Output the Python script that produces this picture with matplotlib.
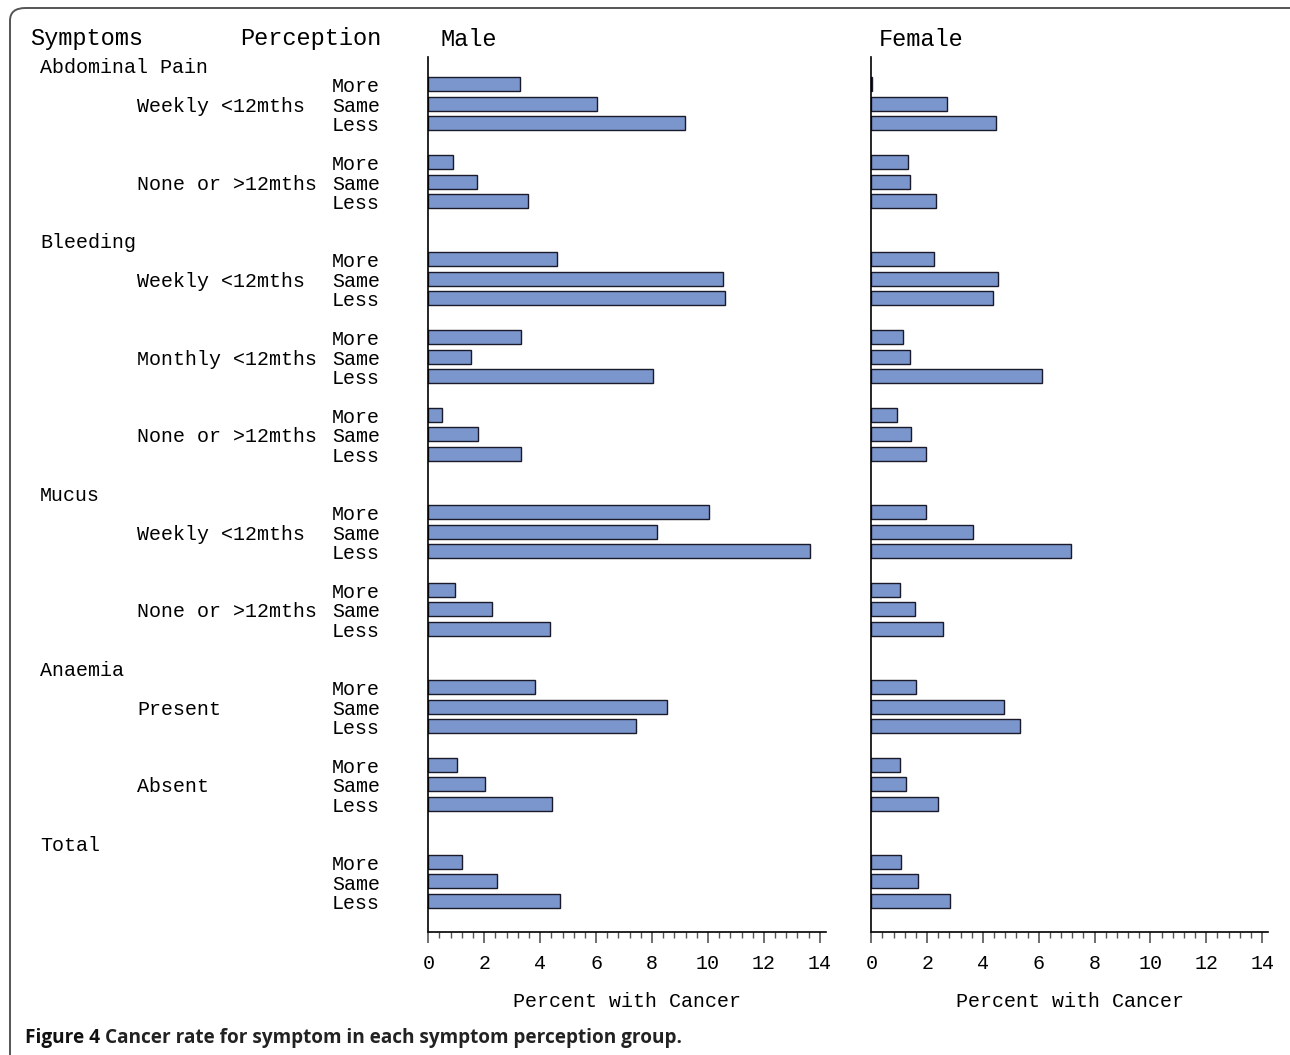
import matplotlib.pyplot as plt
from matplotlib.ticker import MultipleLocator
from matplotlib.patches import FancyBboxPatch
from matplotlib.transforms import blended_transform_factory

W, H = 1290, 1055
MONO = "Liberation Mono"

headings = ["Abdominal Pain", "Bleeding", "Mucus", "Anaemia", "Total"]
subgroups = [
    ["Weekly <12mths", "None or >12mths"],
    ["Weekly <12mths", "Monthly <12mths", "None or >12mths"],
    ["Weekly <12mths", "None or >12mths"],
    ["Present", "Absent"],
    [""],
]
perceptions = ["More", "Same", "Less"]

# percent with cancer, one triple (More, Same, Less) per subgroup
male = [
    [3.29, 6.03, 9.17], [0.87, 1.73, 3.58],
    [4.60, 10.54, 10.61], [3.33, 1.54, 8.02], [0.50, 1.77, 3.31],
    [10.03, 8.18, 13.64], [0.97, 2.29, 4.36],
    [3.81, 8.55, 7.41], [1.02, 2.01, 4.44],
    [1.22, 2.45, 4.70],
]
female = [
    [0.03, 2.72, 4.45], [1.32, 1.37, 2.33],
    [2.23, 4.53, 4.37], [1.15, 1.37, 6.10], [0.93, 1.43, 1.97],
    [1.97, 3.65, 7.16], [1.04, 1.56, 2.58],
    [1.61, 4.74, 5.31], [1.02, 1.23, 2.40],
    [1.07, 1.67, 2.81],
]

# work out the row of every heading and bar
heading_rows, sub_rows = [], []
r = 0
for subs in subgroups:
    heading_rows.append(r)
    r += 1
    for s in subs:
        sub_rows.append([r, r + 1, r + 2])
        r += 4

fig = plt.figure(figsize=(W / 100, H / 100), dpi=100)

# rounded frame around the figure
fig.patches.append(FancyBboxPatch((10 / W, -0.05), 1.2, 1 - 8 / H + 0.05,
                                  boxstyle="round,pad=0,rounding_size=0.012",
                                  transform=fig.transFigure, fill=False,
                                  edgecolor="#555555", linewidth=1.4))

ax_top, ax_bot = 57, 931.5
row0, row_h = 65, 19.44


def make_axes(left_px, right_px, values):
    ax = fig.add_axes([left_px / W, 1 - ax_bot / H, (right_px - left_px) / W,
                       (ax_bot - ax_top) / H])
    for rows, vals in zip(sub_rows, values):
        ax.barh(rows, vals, height=0.72, color="#7b96cc", edgecolor="#1a1a2a",
                linewidth=1.0)
    ax.set_xlim(0, 14.22)
    ax.set_ylim((ax_bot - row0) / row_h, (ax_top - row0) / row_h)
    ax.spines[["top", "right"]].set_visible(False)
    ax.spines["left"].set_linewidth(1.2)
    ax.spines["bottom"].set_linewidth(1.2)
    ax.set_yticks([])
    ax.xaxis.set_major_locator(MultipleLocator(2))
    ax.xaxis.set_minor_locator(MultipleLocator(0.4))
    ax.tick_params(axis="x", which="major", length=8, width=1.2, color="#555555",
                   pad=8, labelsize=14.4)
    ax.tick_params(axis="x", which="minor", length=4, width=1.0, color="#555555")
    for lab in ax.get_xticklabels():
        lab.set_family(MONO)
    ax.set_xlabel("Percent with Cancer", family=MONO, fontsize=14.4, labelpad=14)
    return ax


ax_m = make_axes(428.3, 826, male)
ax_f = make_axes(871.3, 1268.3, female)

# column headers
for txt, x in [("Symptoms", 30), ("Perception", 240), ("Male", 440), ("Female", 879)]:
    fig.text(x / W, 1 - 39 / H, txt, family=MONO, fontsize=17, va="center", ha="left")

# row labels, in figure x and data y (nudged down a little)
tr = blended_transform_factory(fig.transFigure, ax_m.transData)
dy = 0.13
for name, hr in zip(headings, heading_rows):
    ax_m.text(40 / W, hr + dy, name, transform=tr, family=MONO, fontsize=14.4,
              va="center", ha="left", clip_on=False)
flat_subs = [s for subs in subgroups for s in subs]
for name, rows in zip(flat_subs, sub_rows):
    if name:
        ax_m.text(137 / W, rows[1] + dy, name, transform=tr, family=MONO, fontsize=14.4,
                  va="center", ha="left", clip_on=False)
    for p, rr in zip(perceptions, rows):
        ax_m.text(332 / W, rr + dy, p, transform=tr, family=MONO, fontsize=14.4,
                  va="center", ha="left", clip_on=False)

# caption, sized so that it spans the same width as the original
cap_y = 1 - 1038 / H
cap_a = "Figure 4 "
cap_b = "Cancer rate for symptom in each symptom perception group."
fs = 12.0
t1 = fig.text(25 / W, cap_y, cap_a, family="Open Sans", weight="bold",
              fontsize=fs, va="center", ha="left", color="#111111")
t2 = fig.text(0, cap_y, cap_b, family="Open Sans", weight="bold",
              fontsize=fs, va="center", ha="left", color="#222222")
fig.canvas.draw()
rend = fig.canvas.get_renderer()
total = t1.get_window_extent(rend).width + t2.get_window_extent(rend).width
fs = fs * 658 / total
t1.set_fontsize(fs)
t2.set_fontsize(fs)
fig.canvas.draw()
t2.set_x(t1.get_window_extent(rend).x1 / W)

fig.savefig("out.png", dpi=100)
